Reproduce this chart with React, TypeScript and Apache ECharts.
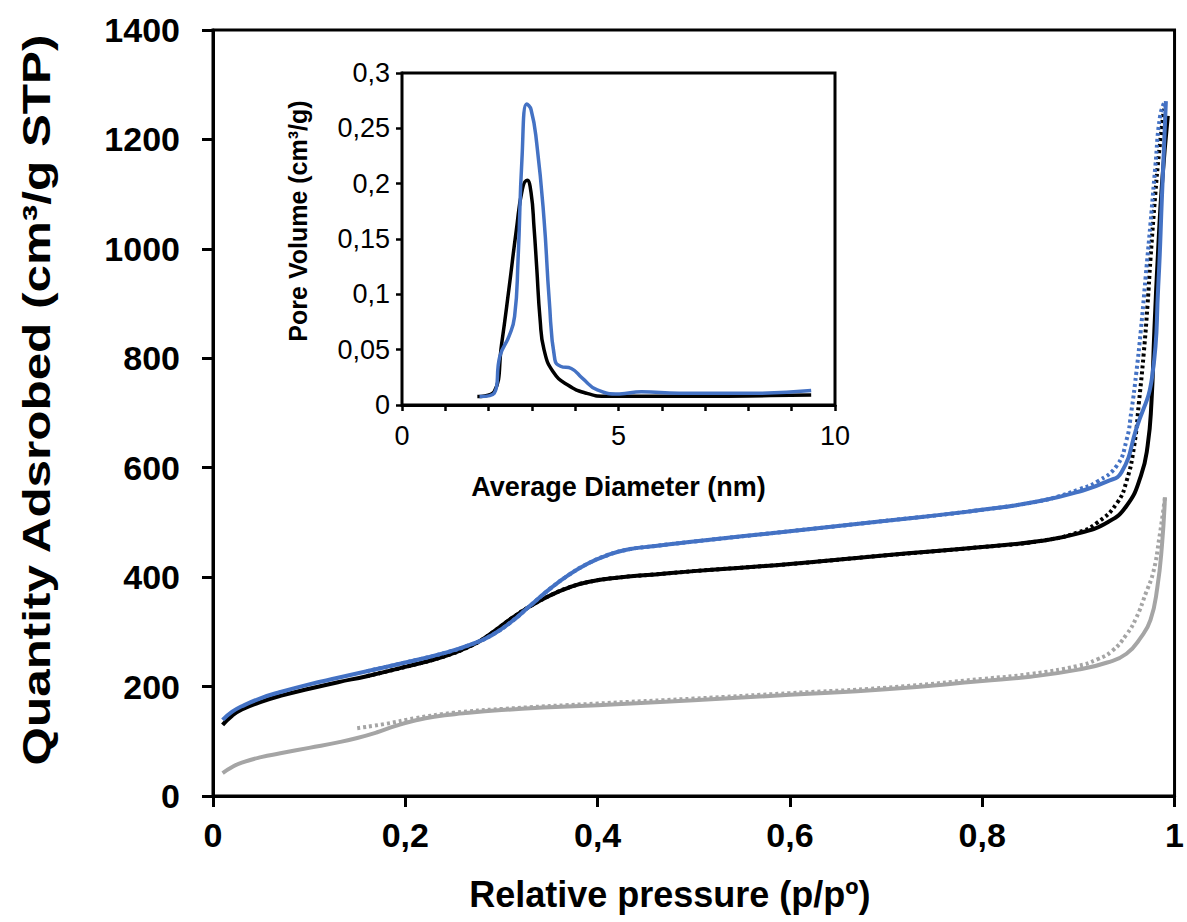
import React, { useEffect, useRef } from "react";
import * as echarts from "echarts";

// ---- Main chart: N2 isotherms (x = p/p°, y = cm3/g STP) ----
const mainXTicks = [0, 0.2, 0.4, 0.6, 0.8, 1];
const mainYTicks = [0, 200, 400, 600, 800, 1000, 1200, 1400];
const mainYTitle = "Quantity Adsrobed (cm\u00B3/g STP)";
const mainXTitle = "Relative pressure (p/p\u00BA)";

const blueAdsorption = [
  [0.01, 139], [0.02, 154], [0.03, 164], [0.05, 179], [0.07, 190], [0.1, 204],
  [0.13, 216], [0.16, 228], [0.2, 244], [0.24, 261], [0.27, 278], [0.29, 294],
  [0.31, 318], [0.33, 348], [0.35, 378], [0.37, 404], [0.39, 425], [0.41, 440],
  [0.43, 450], [0.46, 457], [0.5, 465], [0.6, 484], [0.7, 503], [0.8, 523],
  [0.86, 539], [0.9, 556], [0.93, 575], [0.945, 592], [0.96, 670], [0.977, 770],
  [0.983, 930], [0.987, 1100], [0.991, 1270],
];
const blueDesorptionTail = [
  [0.88, 548], [0.9, 560], [0.92, 575], [0.94, 604], [0.95, 650], [0.955, 702],
  [0.96, 770], [0.965, 852], [0.97, 950], [0.975, 1047], [0.98, 1150],
  [0.985, 1243], [0.99, 1270],
];
const blackAdsorption = [
  [0.01, 130], [0.02, 147], [0.03, 158], [0.05, 172], [0.07, 183], [0.1, 196],
  [0.13, 208], [0.16, 219], [0.2, 236], [0.24, 255], [0.27, 276], [0.29, 298],
  [0.31, 324], [0.33, 347], [0.35, 366], [0.37, 381], [0.39, 391], [0.42, 399],
  [0.46, 405], [0.5, 411], [0.6, 424], [0.7, 440], [0.8, 455], [0.86, 466],
  [0.9, 480], [0.93, 500], [0.95, 530], [0.965, 585], [0.972, 640], [0.976, 720],
  [0.979, 850], [0.983, 1000], [0.987, 1120], [0.993, 1243],
];
const blackDesorptionTail = [
  [0.9, 482], [0.92, 500], [0.94, 535], [0.95, 575], [0.958, 640], [0.963, 720],
  [0.968, 810], [0.972, 900], [0.975, 982], [0.98, 1100], [0.984, 1178],
  [0.989, 1256],
];
const grayAdsorption = [
  [0.01, 42], [0.02, 53], [0.03, 61], [0.05, 71], [0.07, 78], [0.1, 88],
  [0.13, 98], [0.15, 106], [0.17, 116], [0.19, 128], [0.21, 138], [0.23, 145],
  [0.26, 151], [0.3, 157], [0.35, 162], [0.4, 166], [0.5, 175], [0.6, 185],
  [0.7, 195], [0.8, 210], [0.85, 218], [0.9, 231], [0.93, 244], [0.95, 260],
  [0.965, 290], [0.975, 322], [0.982, 380], [0.987, 460], [0.99, 546],
];
const grayDesorption = [
  [0.15, 124], [0.18, 132], [0.21, 142], [0.25, 152], [0.3, 159], [0.4, 169],
  [0.5, 178], [0.6, 188], [0.7, 198], [0.8, 214], [0.85, 223], [0.9, 238],
  [0.92, 250], [0.935, 265], [0.95, 295], [0.96, 325], [0.97, 370], [0.978, 410],
  [0.984, 470], [0.99, 545],
];

// desorption branches coincide with adsorption below p/p° ≈ 0.86
const blueDesorption = [
  ...blueAdsorption.filter((p) => p[0] >= 0.16 && p[0] <= 0.86),
  ...blueDesorptionTail,
];
const blackDesorption = [
  ...blackAdsorption.filter((p) => p[0] >= 0.16 && p[0] <= 0.86),
  ...blackDesorptionTail,
];

// ---- Inset: pore size distribution (x = nm, y = cm3/g) ----
const insetXTicks = [0, 5, 10];
const insetYTicks = [0, 0.05, 0.1, 0.15, 0.2, 0.25, 0.3];
const insetBlack = [
  [1.74, 0.0076], [2.13, 0.012], [2.3, 0.055], [2.47, 0.105], [2.64, 0.158],
  [2.78, 0.195], [2.89, 0.203], [2.98, 0.192], [3.05, 0.16], [3.11, 0.125],
  [3.19, 0.077], [3.28, 0.05], [3.49, 0.03], [3.83, 0.018], [4.26, 0.0106],
  [4.68, 0.008], [5.5, 0.0078], [6.5, 0.0078], [7.5, 0.008], [8.5, 0.0085],
  [9.45, 0.009],
];
const insetBlue = [
  [1.79, 0.0076], [2.13, 0.0106], [2.26, 0.044], [2.47, 0.062], [2.6, 0.08],
  [2.68, 0.131], [2.77, 0.222], [2.88, 0.272], [2.98, 0.267], [3.11, 0.237],
  [3.28, 0.168], [3.4, 0.095], [3.53, 0.041], [3.66, 0.035], [3.91, 0.033],
  [4.17, 0.024], [4.51, 0.0136], [5.02, 0.01], [5.53, 0.012], [6.4, 0.0106],
  [8.1, 0.0106], [9.45, 0.013],
];

const BLUE = "#4472C4";
const BLACK = "#000000";
const GRAY = "#A5A5A5";
const FONT = "Liberation Sans";

const comma = (v: number) => String(v).replace(".", ",");

export default function App() {
  const ref = useRef<HTMLDivElement>(null);
  useEffect(() => {
    if (!ref.current) return;
    const chart = echarts.init(ref.current, undefined, { renderer: "svg" });
    const mainLine = (name: string, data: number[][], color: string, dotted: boolean, z: number) => ({
      name,
      type: "line",
      xAxisIndex: 0,
      yAxisIndex: 0,
      data,
      showSymbol: false,
      smooth: 0.5,
      z,
      lineStyle: { color, width: 4, type: dotted ? [3, 3] : "solid" },
    });
    const insetLine = (name: string, data: number[][], color: string, z: number) => ({
      name,
      type: "line",
      xAxisIndex: 1,
      yAxisIndex: 1,
      data,
      showSymbol: false,
      smooth: 0.5,
      z,
      lineStyle: { color, width: 3.5 },
    });
    chart.setOption({
      animation: false,
      backgroundColor: "#ffffff",
      graphic: [
        {
          type: "text",
          x: 37,
          y: 400,
          rotation: Math.PI / 2,
          scaleX: 1.3,
          scaleY: 1,
          z: 10,
          style: {
            text: mainYTitle,
            font: `bold 38px "${FONT}"`,
            fill: BLACK,
            align: "center",
            verticalAlign: "middle",
          },
        },
      ],
      grid: [
        { left: 213, top: 30, width: 966, height: 766, show: true, borderColor: BLACK, borderWidth: 3, backgroundColor: "transparent", z: 1 },
        { left: 402, top: 73, width: 433, height: 332, show: true, borderColor: BLACK, borderWidth: 3, backgroundColor: "#ffffff", z: 5 },
      ],
      xAxis: [
        {
          type: "value", gridIndex: 0, min: 0, max: 1, interval: 0.2,
          name: mainXTitle, nameLocation: "middle", nameGap: 80,
          nameTextStyle: { fontFamily: FONT, fontWeight: "bold", fontSize: 36, color: BLACK, padding: [0, 48, 0, 0] },
          axisLine: { show: true, lineStyle: { color: BLACK, width: 3 } },
          axisTick: { show: true, inside: false, length: 11, lineStyle: { color: BLACK, width: 3 } },
          axisLabel: { margin: 22, fontFamily: FONT, fontWeight: "bold", fontSize: 34, color: BLACK, formatter: (v: number) => mainXTicks.includes(Math.round(v * 10) / 10) ? comma(Math.round(v * 10) / 10) : "" },
          splitLine: { show: false },
        },
        {
          type: "value", gridIndex: 1, min: 0, max: 10, interval: 1,
          name: "Average Diameter (nm)", nameLocation: "middle", nameGap: 68,
          nameTextStyle: { fontFamily: FONT, fontWeight: "bold", fontSize: 27, color: BLACK },
          axisLine: { show: true, lineStyle: { color: BLACK, width: 3 } },
          axisTick: { show: true, inside: false, length: 6, lineStyle: { color: BLACK, width: 2.5 } },
          axisLabel: { margin: 17, fontFamily: FONT, fontSize: 27, color: BLACK, formatter: (v: number) => insetXTicks.includes(v) ? String(v) : "" },
          splitLine: { show: false },
        },
      ],
      yAxis: [
        {
          type: "value", gridIndex: 0, min: 0, max: 1400, interval: 200,
          axisLine: { show: true, lineStyle: { color: BLACK, width: 3 } },
          axisTick: { show: true, inside: false, length: 11, lineStyle: { color: BLACK, width: 3 } },
          axisLabel: { margin: 33, fontFamily: FONT, fontWeight: "bold", fontSize: 34, color: BLACK, formatter: (v: number) => mainYTicks.includes(v) ? String(v) : "" },
          splitLine: { show: false },
        },
        {
          type: "value", gridIndex: 1, min: 0, max: 0.3, interval: 0.05,
          name: "Pore Volume (cm\u00B3/g)", nameLocation: "middle", nameGap: 92,
          nameTextStyle: { fontFamily: FONT, fontWeight: "bold", fontSize: 25, color: BLACK, padding: [0, 0, 0, 36] },
          axisLine: { show: true, lineStyle: { color: BLACK, width: 3 } },
          axisTick: { show: true, inside: false, length: 6, lineStyle: { color: BLACK, width: 2.5 } },
          axisLabel: { margin: 12, fontFamily: FONT, fontSize: 27, color: BLACK, formatter: (v: number) => { const r = Math.round(v * 100) / 100; return insetYTicks.includes(r) ? comma(r) : ""; } },
          splitLine: { show: false },
        },
      ],
      series: [
        mainLine("Gray adsorption", grayAdsorption, GRAY, false, 2),
        mainLine("Gray desorption", grayDesorption, GRAY, true, 2),
        mainLine("Black adsorption", blackAdsorption, BLACK, false, 3),
        mainLine("Black desorption", blackDesorption, BLACK, true, 3),
        mainLine("Blue adsorption", blueAdsorption, BLUE, false, 4),
        mainLine("Blue desorption", blueDesorption, BLUE, true, 4),
        insetLine("Inset black", insetBlack, BLACK, 6),
        insetLine("Inset blue", insetBlue, BLUE, 7),
      ],
    });
    return () => chart.dispose();
  }, []);
  return <div ref={ref} style={{ position: "fixed", left: 0, top: 0, width: 1187, height: 922 }} />;
}
